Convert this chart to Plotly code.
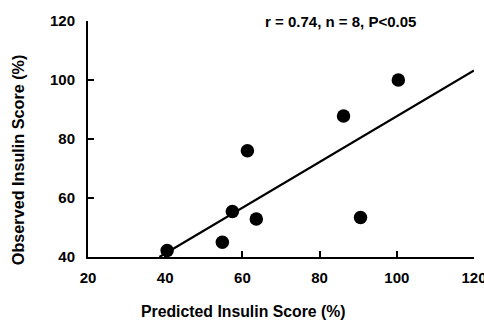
import plotly.graph_objects as go

predicted = [40.5, 54.8, 57.4, 61.3, 63.6, 86.2, 90.6, 100.4]
observed = [42.2, 45.0, 55.4, 76.0, 52.9, 87.8, 53.4, 100.0]
fit_x = [38.5, 120]
fit_y = [40, 103.2]
x_ticks = [20, 40, 60, 80, 100, 120]
y_ticks = [40, 60, 80, 100, 120]
stats_text = "r = 0.74, n = 8, P<0.05"
x_title = "Predicted Insulin Score (%)"
y_title = "Observed Insulin Score (%)"

FONT = "Liberation Sans"

fig = go.Figure()
fig.add_trace(go.Scatter(x=fit_x, y=fit_y, mode="lines",
                         line=dict(color="black", width=2.2), showlegend=False))
fig.add_trace(go.Scatter(x=predicted, y=observed, mode="markers",
                         marker=dict(color="black", size=13.5), showlegend=False))

axis_common = dict(showline=True, linecolor="black", linewidth=2, showgrid=False,
                   zeroline=False, ticks="inside", ticklen=6, tickwidth=1.5,
                   tickcolor="black", automargin=False,
                   tickfont=dict(family=FONT, size=15, color="black", weight="bold"))

fig.update_xaxes(range=[20, 120], tickvals=x_ticks, ticklabelstandoff=6,
                 ticklabeloverflow="allow", **axis_common)
fig.update_yaxes(range=[40, 120], tickvals=y_ticks, ticklabelstandoff=8,
                 ticklabeloverflow="allow", **axis_common)

fig.update_layout(
    width=484, height=320,
    margin=dict(l=88, r=10, t=21, b=63),
    plot_bgcolor="white", paper_bgcolor="white",
    annotations=[
        dict(text=stats_text, xref="paper", yref="paper", x=0.653, y=1.0,
             xanchor="center", yanchor="middle", showarrow=False,
             font=dict(family=FONT, size=15, color="black", weight="bold")),
        dict(text=x_title, xref="paper", yref="paper", x=0.404, y=-0.229,
             xanchor="center", yanchor="middle", showarrow=False,
             font=dict(family=FONT, size=15.8, color="black", weight="bold")),
        dict(text=y_title, xref="paper", yref="paper", x=-0.181, y=0.411,
             xanchor="center", yanchor="middle", showarrow=False, textangle=-90,
             font=dict(family=FONT, size=16.2, color="black", weight="bold")),
    ],
)

fig.write_html(
    "out.html",
    config={"displayModeBar": False},
    post_script="document.body.style.margin='0';document.body.style.overflow='hidden';",
)
